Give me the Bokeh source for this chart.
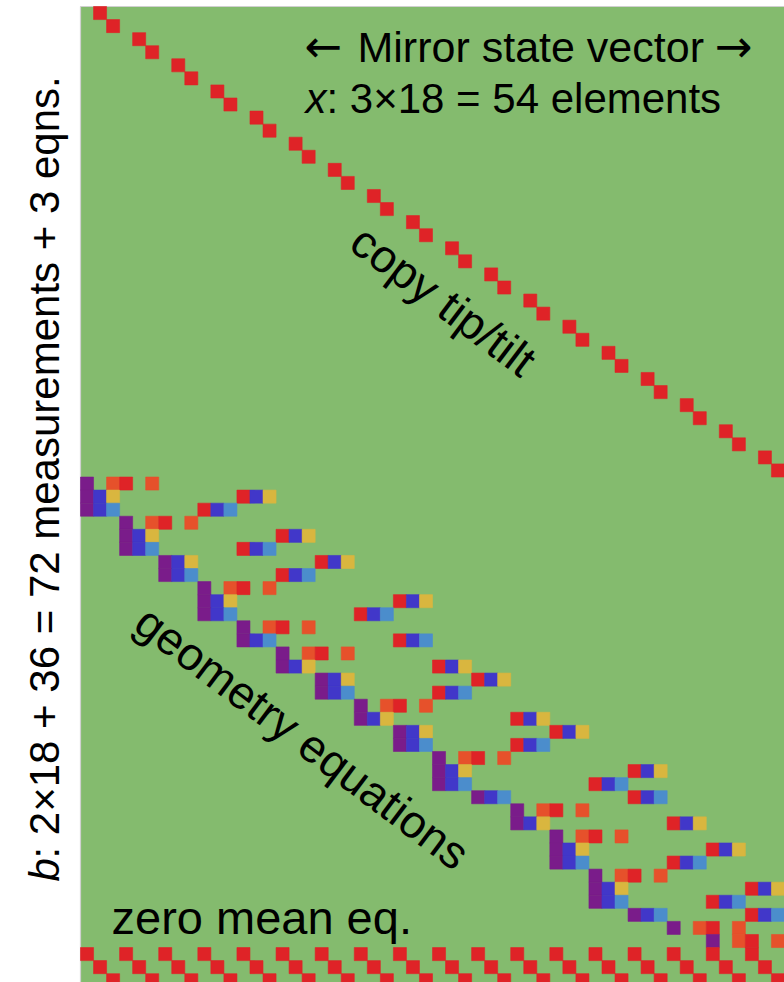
from math import radians

from bokeh.plotting import figure
from bokeh.models import ColumnDataSource, Label, Range1d
from bokeh.transform import linear_cmap
from bokeh.embed import file_html
from bokeh.resources import INLINE

# Matrix layout: 54 state columns (piston, tip, tilt for 18 mirrors),
# 36 copy rows + 36 geometry rows + 3 zero-mean rows.
N_COLS = 54
N_ROWS = 75

# "copy tip/tilt" block: one unit entry per row (rows 0..35)
copy_cols = [1, 2, 4, 5, 7, 8, 10, 11, 13, 14, 16, 17, 19, 20, 22, 23, 25, 26,
             28, 29, 31, 32, 34, 35, 37, 38, 40, 41, 43, 44, 46, 47, 49, 50, 52, 53]

# geometry equations (rows 36..71): mirror pairs sharing an edge and edge kind
edge_first = [0, 0, 0, 1, 1, 1, 2, 2, 3, 3, 3, 4, 4, 5, 5, 6, 6, 7, 7, 8, 8,
              9, 9, 9, 10, 11, 11, 12, 12, 12, 13, 13, 13, 14, 15, 16]
edge_second = [1, 4, 3, 2, 5, 4, 6, 5, 4, 8, 7, 5, 8, 6, 9, 10, 9, 8, 11, 12, 11,
               10, 14, 13, 14, 12, 15, 13, 16, 15, 14, 17, 16, 17, 16, 17]
edge_kind = ["A", "B", "C", "A", "B", "C", "B", "C", "A", "B", "C", "A", "C",
             "A", "B", "B", "C", "A", "B", "B", "C", "A", "B", "C", "C", "A",
             "B", "A", "B", "C", "A", "B", "C", "C", "A", "A"]
# (tip, tilt) coefficients per edge kind; pistons enter as -1 / +1
tip_coeff = {"A": 0.0, "B": -0.52, "C": -0.52}
tilt_coeff = {"A": 0.6, "B": 0.3, "C": -0.3}

# zero-mean equations (rows 72..74): piston, tip and tilt sums
zero_mean_cols = [
    [0, 3, 6, 9, 12, 15, 18, 21, 24, 27, 30, 33, 36, 39, 42, 45, 48, 51],
    [1, 4, 7, 10, 13, 16, 19, 22, 25, 28, 31, 34, 37, 40, 43, 46, 49, 52],
    [2, 5, 8, 11, 14, 17, 20, 23, 26, 29, 32, 35, 38, 41, 44, 47, 50, 53],
]

palette = ["#7a1c8a", "#4137c9", "#4b8dcc", "#84bb6e", "#d9b63f", "#e6512b", "#df2327"]
GREEN = palette[3]

cells_x, cells_y, cells_v = [], [], []


def put(row, col, v):
    if v != 0:
        cells_x.append(col + 0.5)
        cells_y.append(row + 0.5)
        cells_v.append(v)


for r, c in enumerate(copy_cols):
    put(r, c, 1.0)

for k, (i, j, kind) in enumerate(zip(edge_first, edge_second, edge_kind)):
    row = 36 + k
    put(row, 3 * i, -1.0)
    put(row, 3 * i + 1, tip_coeff[kind])
    put(row, 3 * i + 2, tilt_coeff[kind])
    put(row, 3 * j, 1.0)
    put(row, 3 * j + 1, tip_coeff[kind])
    put(row, 3 * j + 2, tilt_coeff[kind])

for k, cols in enumerate(zero_mean_cols):
    for c in cols:
        put(72 + k, c, 1.0)

source = ColumnDataSource(dict(x=cells_x, y=cells_y, v=cells_v))

# page geometry: matrix starts 80 px from the left and 6 px from the top
W, H = 784, 982
LEFT_PX, TOP_PX = 80.0, 6.0
CELL_W = (W - LEFT_PX) / N_COLS
CELL_H = 13.07


def col_of(px):
    return (px - LEFT_PX) / CELL_W


def row_of(py):
    return (py - TOP_PX) / CELL_H


p = figure(width=W, height=H, output_backend="svg", toolbar_location=None,
           x_range=Range1d(col_of(0), col_of(W)), y_range=Range1d(row_of(H), row_of(0)),
           x_axis_type=None, y_axis_type=None,
           min_border=0, min_border_left=0, min_border_right=0,
           min_border_top=0, min_border_bottom=0)
p.grid.visible = False
p.background_fill_color = "white"
p.border_fill_color = "white"
p.outline_line_color = None

# matrix background (zero entries) and its thin border
p.quad(left=0, right=N_COLS, top=0, bottom=N_ROWS, fill_color=GREEN, line_color=None)
p.segment(x0=[0, 0], y0=[0, 0], x1=[N_COLS, 0], y1=[0, N_ROWS],
          line_color="#d0d0d0", line_width=1.2)

cmap = linear_cmap("v", palette, -1, 1)
p.rect(x="x", y="y", width=1, height=1, source=source,
       fill_color=cmap, line_color=cmap, line_width=0.6)

FONT = "Liberation Sans"


def label(text, px, py, size, angle=0.0, align="left", baseline="middle",
          style="normal", font=FONT):
    p.add_layout(Label(x=col_of(px), y=row_of(py), text=text, text_font=font,
                       text_font_size=f"{size}px", text_font_style=style,
                       text_color="black", angle=radians(angle),
                       text_align=align, text_baseline=baseline))


label("\u2190", 304, 46, 45, font="DejaVu Sans")
label("Mirror state vector", 357, 46, 43)
label("\u2192", 714, 46, 45, font="DejaVu Sans")
label("x", 305, 98, 42, style="italic")
label(": 3\u00d718 = 54 elements", 326, 98, 42)
label("copy tip/tilt", 443, 300, 46, angle=-37, align="center")
label("geometry equations", 302, 737, 46, angle=-37, align="center")
label("zero mean eq.", 111, 917, 47, baseline="alphabetic")
label("b", 44, 881, 42, angle=90, style="italic")
label(": 2\u00d718 + 36 = 72 measurements + 3 eqns.", 44, 858, 42, angle=90)

open("out.html", "w").write(file_html(p, INLINE))
